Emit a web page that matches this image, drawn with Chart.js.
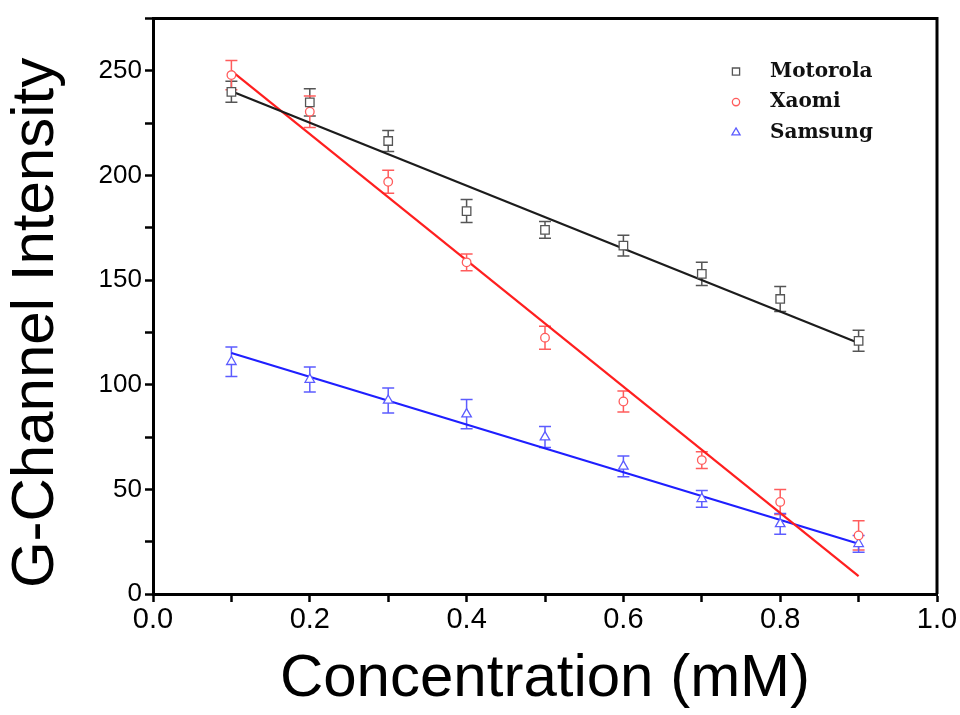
<!DOCTYPE html>
<html>
<head>
<meta charset="utf-8">
<script src="https://cdn.jsdelivr.net/npm/chart.js@4/dist/chart.umd.min.js"></script>
<style>
  html, body { margin: 0; padding: 0; background: #fff; }
  #wrap { width: 960px; height: 715px; }
</style>
</head>
<body>
<div id="wrap"><canvas id="chart" width="960" height="715"></canvas></div>
<script>
"use strict";

// concentration (mM)
const concentration = [0.1, 0.2, 0.3, 0.4, 0.5, 0.6, 0.7, 0.8, 0.9];

// G-channel intensity, mean and error
const motorola = [240, 235, 216.5, 183, 174, 166.5, 153, 141, 121];
const motorolaErr = [5, 6.5, 5, 5.5, 4, 5, 5.5, 6, 5];
const xaomi = [248, 230.5, 197, 158.5, 122.5, 92, 64, 44, 28];
const xaomiErr = [7, 7.5, 5.5, 4, 5.5, 5, 4, 6, 7];
const samsung = [111, 102.5, 92.5, 86, 75, 61, 45.5, 33.5, 24];
const samsungErr = [7, 6, 6, 7, 5, 5, 4, 5, 4];

// linear fit end points (at first and last concentration)
const fitX = [0.1, 0.9];
const motorolaFit = [240.3, 120];
const xaomiFit = [250, 8.5];
const samsungFit = [115.2, 24];

const seriesNames = ["Motorola", "Xaomi", "Samsung"];

function toPoints(xs, ys) {
    return xs.map(function(x, i) { return { x: x, y: ys[i] }; });
}

function markerSet(label, ys, errs, style, color, radius) {
    return {
        label: label,
        data: toPoints(concentration, ys),
        errors: errs,
        showLine: false,
        pointStyle: style,
        pointRadius: radius,
        pointBorderWidth: 1.3,
        pointBorderColor: color,
        pointBackgroundColor: "#ffffff",
        borderColor: color,
        order: 1
    };
}

function fitSet(ys, color) {
    return {
        label: "",
        data: toPoints(fitX, ys),
        showLine: true,
        borderColor: color,
        borderWidth: 2.2,
        pointRadius: 0,
        isFit: true,
        order: 2
    };
}

// vertical error bars with caps, drawn under the markers
const errorBars = {
    id: "errorBars",
    beforeDatasetsDraw: function(chart) {
        const ctx = chart.ctx;
        const xs = chart.scales.x;
        const ys = chart.scales.y;
        ctx.save();
        chart.data.datasets.forEach(function(ds) {
            if (!ds.errors) return;
            ctx.strokeStyle = ds.pointBorderColor;
            ctx.lineWidth = 1.5;
            ds.data.forEach(function(p, i) {
                const px = xs.getPixelForValue(p.x);
                const top = ys.getPixelForValue(p.y + ds.errors[i]);
                const bot = ys.getPixelForValue(p.y - ds.errors[i]);
                ctx.beginPath();
                ctx.moveTo(px, top); ctx.lineTo(px, bot);
                ctx.moveTo(px - 6, top); ctx.lineTo(px + 6, top);
                ctx.moveTo(px - 6, bot); ctx.lineTo(px + 6, bot);
                ctx.stroke();
            });
        });
        ctx.restore();
    }
};

// top and right frame lines
const frame = {
    id: "frame",
    afterDraw: function(chart) {
        const a = chart.chartArea;
        const ctx = chart.ctx;
        ctx.save();
        ctx.strokeStyle = "#000";
        ctx.lineWidth = 3;
        ctx.beginPath();
        ctx.moveTo(a.left, a.top);
        ctx.lineTo(a.right, a.top);
        ctx.lineTo(a.right, a.bottom);
        ctx.stroke();
        ctx.restore();
    }
};

function drawMarker(ctx, style, x, y, r) {
    ctx.beginPath();
    if (style === "rect") {
        const s = Math.SQRT1_2 * r;
        ctx.rect(x - s, y - s, 2 * s, 2 * s);
    } else if (style === "circle") {
        ctx.arc(x, y, r, 0, Math.PI * 2);
    } else {
        const h = r * 1.5;
        ctx.moveTo(x, y - r);
        ctx.lineTo(x + h * 0.58, y + r * 0.5);
        ctx.lineTo(x - h * 0.58, y + r * 0.5);
        ctx.closePath();
    }
    ctx.fill();
    ctx.stroke();
}

// legend inside the plot, top right
const innerLegend = {
    id: "innerLegend",
    afterDraw: function(chart) {
        const a = chart.chartArea;
        const ctx = chart.ctx;
        const mx = a.right - 201;
        const tx = a.right - 167;
        let y = a.top + 53;
        ctx.save();
        ctx.font = "bold 20px 'DejaVu Serif'";
        ctx.textBaseline = "middle";
        chart.data.datasets.forEach(function(ds) {
            if (ds.isFit) return;
            ctx.strokeStyle = ds.pointBorderColor;
            ctx.fillStyle = "#fff";
            ctx.lineWidth = 1.3;
            drawMarker(ctx, ds.pointStyle, mx, y, ds.pointRadius * 0.85);
            ctx.fillStyle = "#111";
            ctx.fillText(ds.label, tx, y);
            y += 30.5;
        });
        ctx.restore();
    }
};

const fontFamily = "'Liberation Sans', Arial, sans-serif";

new Chart(document.getElementById("chart"), {
    type: "scatter",
    data: {
        datasets: [
            markerSet(seriesNames[0], motorola, motorolaErr, "rect", "#555555", 6),
            markerSet(seriesNames[1], xaomi, xaomiErr, "circle", "#ff5c5c", 4.3),
            markerSet(seriesNames[2], samsung, samsungErr, "triangle", "#5c5cff", 5.5),
            fitSet(motorolaFit, "#1c1c1c"),
            fitSet(xaomiFit, "#ff1f1f"),
            fitSet(samsungFit, "#1f1fff")
        ]
    },
    options: {
        responsive: false,
        devicePixelRatio: 1,
        animation: false,
        layout: { padding: { left: 0, top: 15, right: 23, bottom: 0 } },
        plugins: {
            legend: { display: false },
            tooltip: { enabled: false }
        },
        scales: {
            x: {
                type: "linear",
                min: 0,
                max: 1,
                afterFit: function(scale) { scale.height = 121; },
                border: { color: "#000", width: 3 },
                grid: { drawOnChartArea: false, drawTicks: true, tickLength: 8, tickWidth: 2.5, tickColor: "#000" },
                ticks: {
                    stepSize: 0.1,
                    autoSkip: false,
                    maxRotation: 0,
                    color: "#000",
                    font: { family: fontFamily, size: 29 },
                    padding: 1,
                    callback: function(v) {
                        const k = Math.round(v * 10);
                        return k % 2 === 0 ? (k / 10).toFixed(1) : "";
                    }
                },
                title: {
                    display: true,
                    text: "Concentration (mM)",
                    color: "#000",
                    font: { family: fontFamily, size: 60 },
                    padding: { top: 0, bottom: 0 }
                }
            },
            y: {
                type: "linear",
                min: 0,
                max: 275,
                afterFit: function(scale) { scale.width = 153; },
                border: { color: "#000", width: 3 },
                grid: { drawOnChartArea: false, drawTicks: true, tickLength: 8, tickWidth: 2.5, tickColor: "#000" },
                ticks: {
                    stepSize: 25,
                    autoSkip: false,
                    color: "#000",
                    font: { family: fontFamily, size: 26 },
                    padding: 3,
                    callback: function(v) { return v % 50 === 0 ? String(v) : ""; }
                },
                title: {
                    display: true,
                    // trailing spaces nudge the centred title down along the axis
                    text: "G-Channel Intensity  ",
                    color: "#000",
                    font: { family: fontFamily, size: 60 },
                    padding: { top: 0, bottom: 0 }
                }
            }
        }
    },
    plugins: [errorBars, frame, innerLegend]
});
</script>
</body>
</html>
